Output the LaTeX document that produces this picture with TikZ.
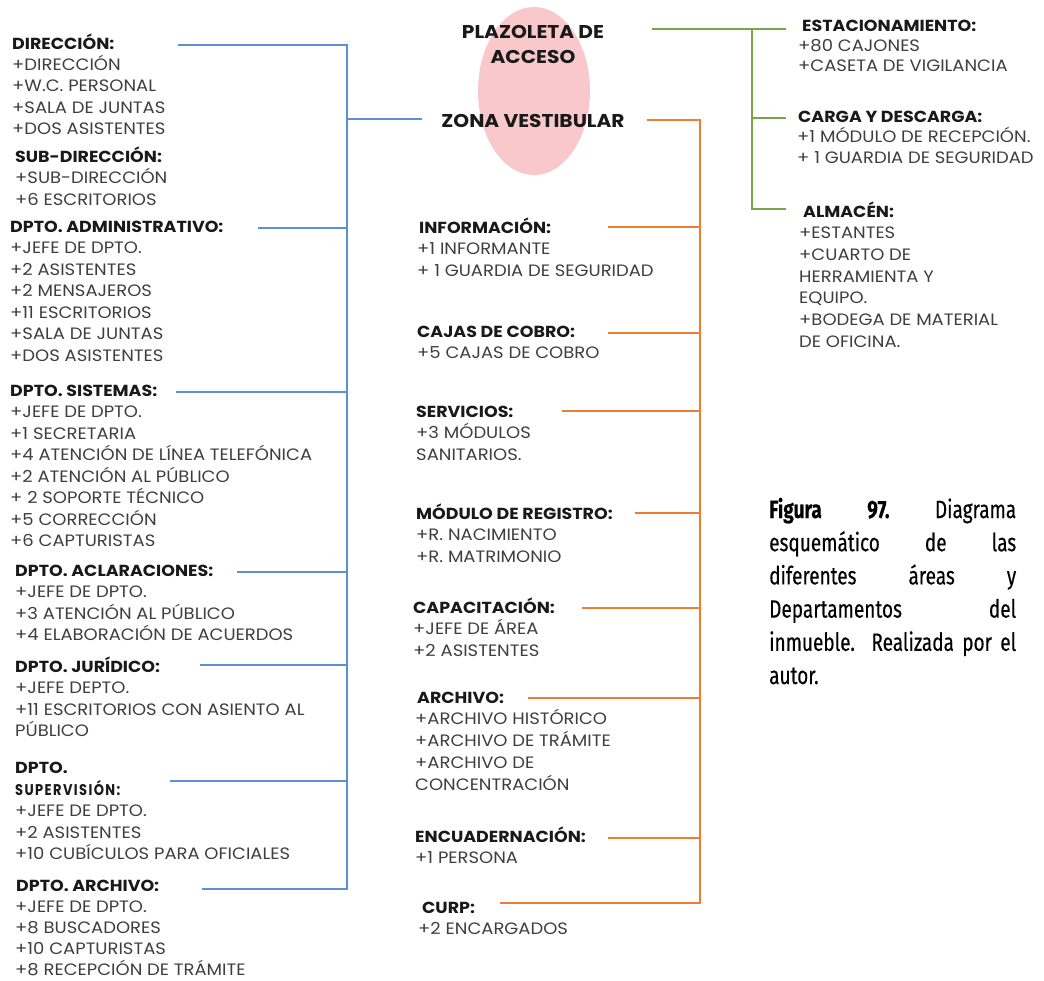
\documentclass[tikz,border=0pt]{standalone}
\usepackage{fontspec}
\newfontfamily\cg[FakeStretch=1.09]{Poppins}
\newfontfamily\cgsp[FakeStretch=0.84,LetterSpace=9]{Poppins}
\newfontfamily\capf[FakeStretch=0.76,FakeBold=0.3]{Fira Sans}
\definecolor{bl}{RGB}{91,143,214}
\definecolor{orl}{RGB}{237,125,49}
\definecolor{grl}{RGB}{122,164,72}
\definecolor{pk}{RGB}{249,200,202}
\definecolor{txt}{RGB}{62,62,62}
\definecolor{hdc}{RGB}{25,25,25}
\tikzset{
 hd/.style={anchor=base west, inner sep=0pt, font=\cg\bfseries\fontsize{16}{18}\selectfont, text=hdc},
 it/.style={anchor=base west, inner sep=0pt, font=\cg\fontsize{16.5}{18}\selectfont, text=txt},
 ttl/.style={anchor=base, inner sep=0pt, font=\cg\bfseries\fontsize{18.5}{20}\selectfont, text=hdc},
 capline/.style={anchor=base west, inner sep=0pt, font=\capf\fontsize{25}{30}\selectfont, text=black},
 bline/.style={draw=bl, line width=1.8pt},
 oline/.style={draw=orl, line width=1.8pt},
 gline/.style={draw=grl, line width=1.8pt},
}
\newcommand\blk[7]{%
  \node[hd] (#1) at (#2,#3) {#4};
  \foreach \itm [count=\i] in {#7} {\node[it] (#1-\i) at (#5,{#3+\i*#6}) {\itm};}
}
\begin{document}
\begin{tikzpicture}[x=1pt,y=-1pt]
\useasboundingbox (0,0) rectangle (1044,980);
% ellipse
\fill[pk] (534,91) ellipse [x radius=56, y radius=84];
% titles
\node[ttl] (plz) at (533,38) {PLAZOLETA DE};
\node[ttl] (acc) at (533,63) {ACCESO};
\node[ttl] (zv) at (533,127) {ZONA VESTIBULAR};
% left column
\blk{dir}{12}{49}{DIRECCIÓN:}{12}{21.4}{+DIRECCIÓN,+W.C. PERSONAL,+SALA DE JUNTAS,+DOS ASISTENTES}
\blk{sub}{15}{162}{SUB-DIRECCIÓN:}{15}{21.5}{+SUB-DIRECCIÓN,+6 ESCRITORIOS}
\blk{adm}{10}{232}{DPTO. ADMINISTRATIVO:}{10}{21.5}{+JEFE DE DPTO.,+2 ASISTENTES,+2 MENSAJEROS,+11 ESCRITORIOS,+SALA DE JUNTAS,+DOS ASISTENTES}
\blk{sis}{10}{396}{DPTO. SISTEMAS:}{10}{21.5}{+JEFE DE DPTO.,+1 SECRETARIA,+4 ATENCIÓN DE LÍNEA TELEFÓNICA,+2 ATENCIÓN AL PÚBLICO,+ 2 SOPORTE TÉCNICO,+5 CORRECCIÓN,+6 CAPTURISTAS}
\blk{acl}{15}{576}{DPTO. ACLARACIONES:}{15}{21.5}{+JEFE DE DPTO.,+3 ATENCIÓN AL PÚBLICO,+4 ELABORACIÓN DE ACUERDOS}
\blk{jur}{15}{672}{DPTO. JURÍDICO:}{15}{21.5}{+JEFE DEPTO.,+11 ESCRITORIOS CON ASIENTO AL,PÚBLICO}
\node[hd] (sup) at (15,773) {DPTO.};
\blk{sup2}{15}{795}{\cgsp\bfseries\fontsize{15.5}{17}\selectfont SUPERVISIÓN:}{15}{21.5}{+JEFE DE DPTO.,+2 ASISTENTES,+10 CUBÍCULOS PARA OFICIALES}
\blk{arc}{16}{891}{DPTO. ARCHIVO:}{15}{21.2}{+JEFE DE DPTO.,+8 BUSCADORES,+10 CAPTURISTAS,+8 RECEPCIÓN DE TRÁMITE}
% middle column
\blk{inf}{419}{233}{INFORMACIÓN:}{417}{21.5}{+1 INFORMANTE,+ 1 GUARDIA DE SEGURIDAD}
\blk{caj}{417}{337}{CAJAS DE COBRO:}{417}{21.5}{+5 CAJAS DE COBRO}
\blk{ser}{416}{417}{SERVICIOS:}{416}{21.5}{+3 MÓDULOS,SANITARIOS.}
\blk{mod}{416}{519}{MÓDULO DE REGISTRO:}{416}{21.5}{+R. NACIMIENTO,+R. MATRIMONIO}
\blk{cap}{413}{613}{CAPACITACIÓN:}{413}{21.5}{+JEFE DE ÁREA,+2 ASISTENTES}
\blk{arch}{417}{703}{ARCHIVO:}{415}{21.8}{+ARCHIVO HISTÓRICO,+ARCHIVO DE TRÁMITE,+ARCHIVO DE,CONCENTRACIÓN}
\blk{enc}{415}{842}{ENCUADERNACIÓN:}{415}{21.5}{+1 PERSONA}
\blk{curp}{422}{913}{CURP:}{418}{21.5}{+2 ENCARGADOS}
% right column
\blk{est}{802}{31}{ESTACIONAMIENTO:}{798}{20}{+80 CAJONES,+CASETA DE VIGILANCIA}
\blk{car}{798}{122}{CARGA Y DESCARGA:}{797}{20.5}{+1 MÓDULO DE RECEPCIÓN.,+ 1 GUARDIA DE SEGURIDAD}
\blk{alm}{803}{217}{ALMACÉN:}{799}{21.7}{+ESTANTES,+CUARTO DE,HERRAMIENTA Y,EQUIPO.,+BODEGA DE MATERIAL,DE OFICINA.}
% caption
\node[capline] (c1) at (769,518) {\makebox[247pt][s]{\bfseries Figura\ 97.\ \mdseries Diagrama}};
\node[capline] (c2) at (769,551.2) {\makebox[247pt][s]{esquemático de las}};
\node[capline] (c3) at (769,584.4) {\makebox[247pt][s]{diferentes áreas y}};
\node[capline] (c4) at (769,617.6) {\makebox[247pt][s]{Departamentos del}};
\node[capline] (c5) at (769,650.8) {\makebox[247pt][s]{inmueble. Realizada por el}};
\node[capline] (c6) at (769,684) {autor.};
% blue connectors
\coordinate (bbus) at (347,0);
\coordinate (bd) at (178,45);
\coordinate (ba) at (258,228);
\coordinate (bs) at (176,392);
\coordinate (bc) at (237,572);
\coordinate (bj) at (200,665);
\coordinate (bp) at (170,781);
\coordinate (br) at (202,889);
\coordinate (bz) at (422,119);
\draw[bline] (bd) -- (bd -| bbus) -- (br -| bbus) -- (br);
\foreach \c in {ba,bs,bc,bj,bp} \draw[bline] (\c) -- (\c -| bbus);
\draw[bline] (bz -| bbus) -- (bz);
% orange connectors
\coordinate (obus) at (700,0);
\coordinate (oz) at (647,120);
\coordinate (oi) at (608,227);
\coordinate (oc) at (608,333);
\coordinate (os) at (562,411);
\coordinate (om) at (635,513);
\coordinate (ok) at (582,608);
\coordinate (oa) at (528,698);
\coordinate (oe) at (608,838);
\coordinate (ou) at (500,903);
\draw[oline] (oz) -- (oz -| obus) -- (ou -| obus) -- (ou);
\foreach \c in {oi,oc,os,om,ok,oa,oe} \draw[oline] (\c) -- (\c -| obus);
% green connectors
\coordinate (gbus) at (752,0);
\coordinate (g0) at (652,29);
\coordinate (g1) at (786,29);
\coordinate (g2) at (786,118);
\coordinate (g3) at (786,209);
\draw[gline] (g0) -- (g1);
\draw[gline] (g1 -| gbus) -- (g3 -| gbus) -- (g3);
\draw[gline] (g2 -| gbus) -- (g2);
\end{tikzpicture}
\end{document}
